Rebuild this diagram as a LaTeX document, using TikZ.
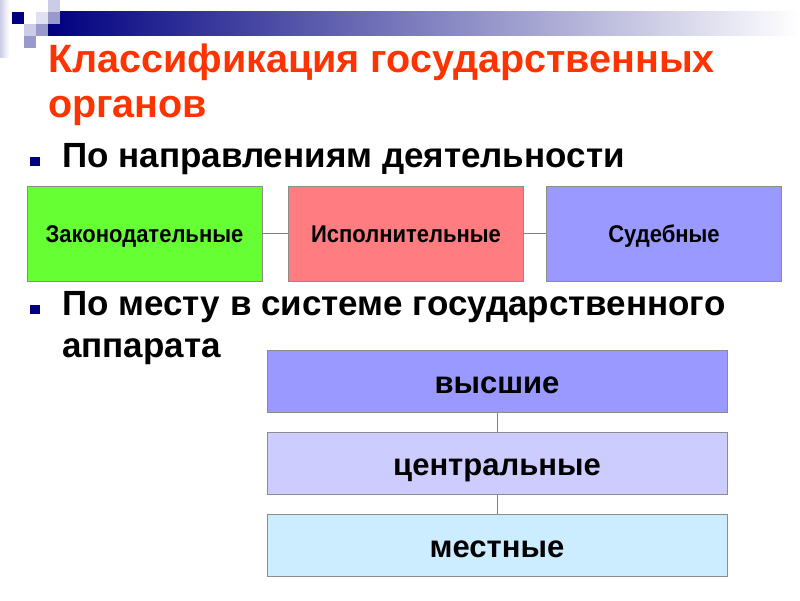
\documentclass[tikz,border=0pt]{standalone}
\usepackage{fontspec}
\setmainfont{Liberation Sans}
\begin{document}
\begin{tikzpicture}[x=1pt,y=-1pt,
  conn/.style={draw=black!50,line width=0.9pt},
  hbox/.style={draw=black!45,line width=0.9pt,minimum width=235pt,minimum height=95pt,inner sep=0pt,text height=17pt,text depth=0pt,font=\fontsize{22}{24}\selectfont\bfseries},
  vbox/.style={draw=black!45,line width=0.9pt,minimum width=460pt,minimum height=62pt,inner sep=0pt,text height=23pt,text depth=0pt,font=\fontsize{31}{33}\selectfont\bfseries},
  bul/.style={fill=bulnavy,minimum width=10pt,minimum height=9pt,inner sep=0pt},
  ttl/.style={anchor=base west,inner sep=0pt,text=titlered,font=\fontsize{39.5}{42}\selectfont\bfseries},
  btxt/.style={anchor=base west,inner sep=0pt,font=\fontsize{35}{38}\selectfont\bfseries},
  sq/.style={inner sep=0pt,minimum size=12pt}]
\definecolor{titlered}{HTML}{FF3300}
\definecolor{bulnavy}{HTML}{000080}
\definecolor{barnavy}{HTML}{000080}
\definecolor{sqlight}{HTML}{CCCCE6}
\definecolor{sqmid}{HTML}{9999CC}
\definecolor{cgreen}{HTML}{66FF33}
\definecolor{cred}{HTML}{FF7C80}
\definecolor{cblue}{HTML}{9999FF}
\definecolor{clav}{HTML}{CCCCFF}
\definecolor{ccyan}{HTML}{CCECFF}
\useasboundingbox (0,0) rectangle (800,600);
% header decoration
\fill[left color=sqlight,right color=white] (0,0) rectangle (9,57);
\fill[left color=barnavy,right color=white] (48,11) rectangle (800,35);
\node[sq,fill=sqlight] (s1) at (54,6) {};
\node[sq,fill=barnavy] (s2) at (18,18) {};
\node[sq,fill=sqlight!60] (s3) at (42,18) {};
\node[sq,fill=sqmid] (s4) at (54,18) {};
\node[sq,fill=sqlight] (s5) at (30,30) {};
\node[sq,fill=sqmid] (s6) at (42,30) {};
\node[sq,fill=sqmid] (s7) at (30,42) {};
% title
\node[ttl] (t1) at (48,72) {Классификация государственных};
\node[ttl] (t2) at (48,117) {органов};
% bullets
\node[bul] (b1) at (35,161.5) {};
\node[btxt] (l1) at (62,167) {По направлениям деятельности};
\node[bul] (b2) at (35,309.5) {};
\node[btxt] (l2) at (62,315) {По месту в системе государственного};
\node[btxt] (l3) at (62,357) {аппарата};
% top row
\node[hbox,fill=cgreen] (z) at (144.5,233.5) {\scalebox{1}[1.1]{Законодательные}};
\node[hbox,fill=cred] (i) at (406,233.5) {\scalebox{1}[1.1]{Исполнительные}};
\node[hbox,fill=cblue] (s) at (664,233.5) {\scalebox{1}[1.1]{Судебные}};
\draw[conn] (z.east) -- (i.west);
\draw[conn] (i.east) -- (s.west);
% vertical stack
\node[vbox,fill=cblue] (v) at (497,381.5) {высшие};
\node[vbox,fill=clav] (c) at (497,463.5) {центральные};
\node[vbox,fill=ccyan] (m) at (497,545.5) {местные};
\draw[conn] (v.south) -- (c.north);
\draw[conn] (c.south) -- (m.north);
\end{tikzpicture}
\end{document}
